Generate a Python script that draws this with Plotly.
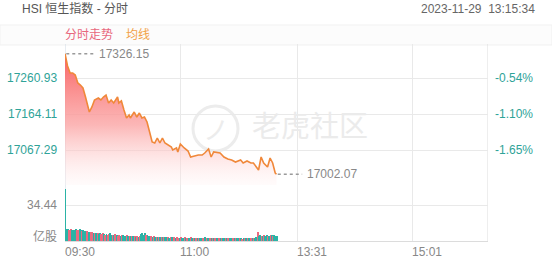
import plotly.graph_objects as go

# ---------------- data ----------------
title_text = "HSI 恒生指数 - 分时"
timestamp_text = "2023-11-29  13:15:34"
prev_close = 17354.14

# minute index since 09:30 (lunch break removed) and index price
price_minutes = [0, 2, 4, 6, 8, 10, 12, 14, 16, 19, 21, 23, 26, 28, 30, 32, 34, 36, 38, 41,
                 42, 44, 46, 48, 50, 51, 54, 56, 58, 60, 62, 64, 66, 68, 70, 72, 74, 76, 78, 80,
                 83, 84, 87, 88, 90, 93, 96, 98, 101, 104, 107, 109, 112, 114, 116, 119, 121, 124, 127, 130,
                 133, 137, 139, 142, 145, 147, 151, 153, 155, 158, 160, 162, 164, 165]
prices = [17326.15, 17293.2, 17274.4, 17274.4, 17269.0, 17247.5, 17242.1, 17234.0, 17209.8, 17169.5,
          17183.0, 17201.8, 17207.1, 17201.8, 17209.8, 17215.2, 17193.7, 17201.8, 17193.7, 17209.8,
          17193.7, 17199.1, 17174.9, 17153.4, 17161.4, 17153.4, 17169.5, 17156.0, 17166.8, 17153.4,
          17156.0, 17142.6, 17115.7, 17088.8, 17086.1, 17099.6, 17086.1, 17099.6, 17086.1, 17080.8,
          17075.4, 17067.3, 17072.7, 17062.0, 17083.4, 17072.7, 17064.6, 17048.5, 17051.2, 17053.8,
          17053.8, 17059.2, 17070.0, 17048.5, 17062.0, 17059.2, 17059.2, 17048.5, 17043.1, 17040.4,
          17035.0, 17040.4, 17032.3, 17037.7, 17032.3, 17032.3, 17013.5, 17048.5, 17032.3, 17021.6,
          17045.8, 17032.3, 17005.4, 17002.07]

# per-minute volume (亿股) and direction (1 = up/red, 0 = down/teal)
volumes = [49.5, 11.8, 11.2, 10.6, 11.4, 10.2, 9.8, 11.0, 11.6, 10.4,
           10.9, 11.3, 10.1, 9.7, 10.5, 9.2, 8.8, 9.6, 8.4, 9.0,
           8.2, 8.7, 7.6, 8.1, 7.3, 7.9, 6.8, 7.4, 6.6, 7.8,
           6.9, 6.2, 7.1, 5.9, 6.5, 7.2, 5.8, 6.0, 5.4, 6.3,
           5.6, 5.1, 5.9, 4.8, 5.4, 6.1, 5.0, 4.7, 5.3, 4.6,
           4.9, 4.4, 5.2, 4.5, 4.8, 4.2, 5.0, 4.3, 4.6, 6.9,
           7.8, 5.6, 7.2, 6.1, 5.3, 4.6, 4.9, 4.4, 4.1, 4.5,
           3.9, 4.3, 4.0, 3.7, 4.2, 3.6, 3.9, 3.5, 3.8, 3.4,
           3.7, 3.3, 3.6, 3.9, 3.2, 3.5, 3.0, 3.4, 3.1, 3.3,
           3.6, 3.2, 2.9, 3.4, 3.0, 3.3, 2.8, 3.1, 3.5, 2.9,
           3.2, 2.8, 3.0, 3.3, 2.7, 3.1, 2.9, 2.6, 3.0, 3.4,
           2.8, 3.1, 2.7, 2.9, 3.2, 2.6, 2.8, 3.0, 2.5, 2.9,
           2.7, 3.1, 2.6, 2.8, 2.4, 2.9, 2.7, 3.0, 2.5, 2.8,
           2.6, 2.9, 2.4, 2.7, 3.0, 2.5, 2.8, 2.6, 2.3, 2.7,
           2.9, 2.5, 2.6, 3.1, 2.4, 2.8, 2.7, 3.0, 2.6, 3.4,
           8.6, 4.8, 5.9, 5.2, 4.6, 5.5, 4.9, 6.1, 5.0, 4.7,
           5.8, 5.3, 4.6, 6.2, 5.1, 4.4]
directions = [0, 0, 0, 1, 1, 0, 0, 0, 0, 1,
              1, 0, 0, 1, 0, 0, 0, 1, 0, 0,
              1, 1, 0, 1, 0, 1, 0, 0, 1, 1,
              0, 1, 0, 1, 1, 0, 0, 1, 0, 1,
              0, 1, 1, 0, 1, 0, 0, 0, 1, 0,
              1, 0, 1, 0, 1, 0, 1, 0, 1, 0,
              0, 0, 0, 1, 0, 0, 0, 1, 0, 1,
              0, 1, 0, 1, 0, 1, 0, 1, 0, 0,
              1, 0, 1, 0, 0, 1, 0, 1, 1, 0,
              1, 0, 0, 1, 0, 1, 0, 0, 1, 0,
              1, 0, 1, 0, 1, 0, 0, 1, 1, 0,
              1, 0, 0, 1, 0, 1, 0, 1, 0, 0,
              1, 0, 1, 0, 0, 1, 0, 1, 0, 0,
              0, 1, 0, 1, 0, 0, 1, 0, 1, 0,
              1, 0, 1, 0, 0, 1, 0, 1, 0, 0,
              1, 0, 0, 1, 0, 1, 0, 0, 1, 0,
              1, 0, 1, 0, 0, 0]

price_ticks = [17260.93, 17164.11, 17067.29]
volume_ticks = [34.44]
volume_unit = "亿股"
time_tick_vals = [0, 90, 181, 271]
time_tick_text = ["09:30", "11:00", "13:31", "15:01"]
session_minutes = 330
legend_labels = ["分时走势", "均线"]
watermark_text = "老虎社区"

# ---------------- styling / layout ----------------
W, H = 552, 265
TEAL = "#2bb3a6"
RED = "#ec6a80"
LINE = "#f0883a"
GRID = "#e9e9e9"
LAT = "Liberation Sans, Arial, Noto Sans CJK SC, sans-serif"
CJK = "Noto Sans CJK SC, sans-serif"


def px_x(px):
    return px / W


def px_y(py):
    return 1 - py / H


plot_l, plot_r = 65, 488
price_top, price_bot = 44, 185
vol_top, vol_bot = 185, 241
price_range = [16973.17, 17352.37]
vol_range = [0, 53.57]

fig = go.Figure()

fig.add_trace(go.Scatter(
    x=price_minutes, y=prices, mode="lines",
    line=dict(color=LINE, width=1.6),
    fill="tozeroy",
    fillgradient=dict(type="vertical", start=price_range[0], stop=17330,
                      colorscale=[[0, "rgba(255,240,240,0.25)"],
                                  [0.45, "rgba(251,165,165,0.8)"],
                                  [1, "rgba(248,95,95,1)"]]),
    xaxis="x", yaxis="y", hoverinfo="skip", showlegend=False,
))

vol_minutes = list(range(len(volumes)))
fig.add_trace(go.Bar(
    x=vol_minutes, y=volumes, width=0.75, offset=0,
    marker=dict(color=[RED if d else TEAL for d in directions], line=dict(width=0)),
    xaxis="x2", yaxis="y2", hoverinfo="skip", showlegend=False,
))

common_x = dict(range=[0, session_minutes], domain=[px_x(plot_l), px_x(plot_r)],
                tickvals=time_tick_vals, showticklabels=False, showgrid=True,
                gridcolor=GRID, gridwidth=1, zeroline=False, fixedrange=True)

fig.update_layout(
    width=W, height=H, margin=dict(l=0, r=0, t=0, b=0),
    paper_bgcolor="white", plot_bgcolor="white",
    bargap=0,
    xaxis=dict(**common_x, anchor="y", matches="x2"),
    xaxis2=dict(**common_x, anchor="y2", showline=True, linecolor="#dcdcdc", linewidth=1),
    yaxis=dict(range=price_range, domain=[px_y(price_bot), px_y(price_top)],
               tickvals=price_ticks, showticklabels=False, showgrid=True,
               gridcolor=GRID, zeroline=False),
    yaxis2=dict(range=vol_range, domain=[px_y(vol_bot), px_y(vol_top)],
                tickvals=volume_ticks, showticklabels=False, showgrid=True,
                gridcolor=GRID, zeroline=False),
)

shapes = []
annotations = []

# header band
shapes.append(dict(type="rect", xref="paper", yref="paper", x0=0, x1=1,
                   y0=px_y(45), y1=px_y(25), fillcolor="#fcfcfc",
                   line=dict(color="#f1f1f1", width=1), layer="below"))

# left / right borders
for xv, col in [(0, "#cfd9e3"), (session_minutes, "#dcdcdc")]:
    shapes.append(dict(type="line", xref="x", yref="paper", x0=xv, x1=xv,
                       y0=px_y(vol_bot), y1=px_y(price_top),
                       line=dict(color=col, width=1), layer="below"))

# watermark
shapes.append(dict(type="circle", xref="paper", yref="paper",
                   x0=px_x(193), x1=px_x(238), y0=px_y(151), y1=px_y(106),
                   line=dict(color="#ececec", width=3), layer="below"))
annotations.append(dict(text="ノ", xref="paper", yref="paper", x=px_x(216), y=px_y(128),
                        showarrow=False, font=dict(family=CJK, size=26, color="#ececec")))
annotations.append(dict(text=watermark_text, xref="paper", yref="paper", x=px_x(310), y=px_y(124),
                        showarrow=False, font=dict(family=CJK, size=29, color="#ebebeb")))

# header texts
annotations.append(dict(text=title_text, xref="paper", yref="paper", x=px_x(20), y=px_y(9),
                        xanchor="left", yanchor="middle", showarrow=False,
                        font=dict(family=LAT, size=12, color="#555")))
annotations.append(dict(text=timestamp_text, xref="paper", yref="paper", x=px_x(537), y=px_y(9),
                        xanchor="right", yanchor="middle", showarrow=False,
                        font=dict(family=LAT, size=12, color="#666")))
annotations.append(dict(text=legend_labels[0], xref="paper", yref="paper", x=px_x(63), y=px_y(34),
                        xanchor="left", yanchor="middle", showarrow=False,
                        font=dict(family=CJK, size=12, color="#e8677c")))
annotations.append(dict(text=legend_labels[1], xref="paper", yref="paper", x=px_x(124), y=px_y(34),
                        xanchor="left", yanchor="middle", showarrow=False,
                        font=dict(family=CJK, size=12, color="#f2a146")))

# price axis labels (left) and percentage labels (right)
for v in price_ticks:
    annotations.append(dict(text=f"{v:.2f}", xref="paper", yref="y", x=px_x(59), y=v,
                            xanchor="right", yanchor="middle", showarrow=False,
                            font=dict(family=LAT, size=12, color="#2fa398")))
    pct = (v / prev_close - 1) * 100
    annotations.append(dict(text=f"{pct:.2f}%", xref="paper", yref="y", x=px_x(493), y=v,
                            xanchor="left", yanchor="middle", showarrow=False,
                            font=dict(family=LAT, size=12, color="#2fa398")))

# volume labels
for v in volume_ticks:
    annotations.append(dict(text=f"{v:.2f}", xref="paper", yref="y2", x=px_x(59), y=v,
                            xanchor="right", yanchor="middle", showarrow=False,
                            font=dict(family=LAT, size=12, color="#888")))
annotations.append(dict(text=volume_unit, xref="paper", yref="paper", x=px_x(59), y=px_y(235),
                        xanchor="right", yanchor="middle", showarrow=False,
                        font=dict(family=CJK, size=12, color="#888")))

# time labels
for tv, tt in zip(time_tick_vals, time_tick_text):
    annotations.append(dict(text=tt, xref="x2", yref="paper", x=tv, y=px_y(252),
                            xanchor="left", yanchor="middle", xshift=-2, showarrow=False,
                            font=dict(family=LAT, size=12, color="#888")))

# high / last markers
hi_i = prices.index(max(prices))
hi_m, hi_v = price_minutes[hi_i], prices[hi_i]
last_m, last_v = price_minutes[-1], prices[-1]
for m, v, ln in [(hi_m, hi_v, 22), (last_m, last_v, 19)]:
    shapes.append(dict(type="line", xref="x", yref="y", x0=m + 1, x1=m + 1 + ln, y0=v, y1=v,
                       line=dict(color="#9a9a9a", width=1.3, dash="3px,3px")))
    annotations.append(dict(text=f"{v:.2f}", xref="x", yref="y", x=m + 3 + ln, y=v,
                            xanchor="left", yanchor="middle", showarrow=False,
                            font=dict(family=LAT, size=12, color="#888")))

fig.update_layout(shapes=shapes, annotations=annotations)
fig.write_html("out.html")
